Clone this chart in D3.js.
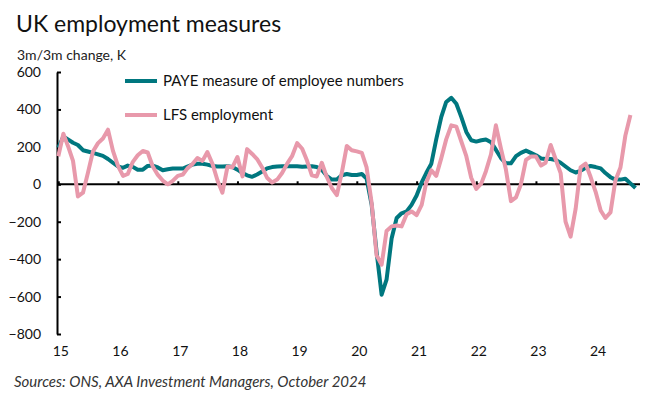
<!DOCTYPE html>
<html>
<head>
<meta charset="utf-8">
<script src="https://cdn.jsdelivr.net/npm/d3@7"></script>
<style>
  body { margin: 0; background: #fff; }
  svg { font-family: Lato, "Open Sans", sans-serif; }
</style>
</head>
<body>
<div id="chart"></div>
<script>
// monthly 3m/3m changes, thousands, starting Jan 2015
const startYear = 2015;
const payeValues = [
  195, 255, 240, 222, 210, 182, 175, 168, 160, 152, 135, 115,
  95, 88, 100, 93, 78, 78, 98, 100, 90, 75, 80, 84,
  84, 84, 95, 105, 110, 110, 105, 98, 95, 95, 97, 92,
  78, 60, 48, 40, 52, 68, 85, 92, 95, 96, 97, 97,
  96, 94, 95, 96, 92, 78, 45, 25, 25, 48, 55, 50,
  50, 55, 30, -110, -360, -590, -510, -290, -180, -155, -145, -110,
  -60, 10, 60, 110, 240, 360, 440, 462, 430, 360, 280, 235,
  228, 235, 239, 225, 185, 140, 112, 112, 150, 168, 180, 168,
  155, 138, 135, 135, 130, 115, 95, 75, 63, 72, 88, 98,
  92, 85, 60, 38, 25, 25, 30, 5, -20
];
const lfsValues = [
  150, 270, 205, 125, -65, -45, 60, 175, 220, 245, 292, 180,
  98, 45, 55, 120, 155, 178, 170, 95, 50, 20, 0, 18,
  45, 52, 85, 108, 140, 125, 172, 110, 20, -45, 95, 90,
  146, 42, 188, 162, 135, 90, 35, 10, 25, 60, 110, 150,
  220, 190, 130, 48, 42, 115, 40, -20, -58, 60, 205, 182,
  176, 168, 90, -100, -380, -430, -250, -225, -220, -225, -160, -145,
  -165, -110, 10, 75, 45, 140, 240, 315, 308, 230, 150, 35,
  -25, 5, 70, 160, 315, 190, 80, -90, -70, 0, 130, 148,
  148, 100, 115, 210, 135, 60, -200, -280, -130, 90, 110, 40,
  -40, -140, -180, -150, 20, 90, 260, 370
];
const yTicks = [-800, -600, -400, -200, 0, 200, 400, 600];
const seriesNames = ["PAYE measure of employee numbers", "LFS employment"];
const seriesColors = ["#00777f", "#e899ab"];

const width = 655, height = 398;

const svg = d3.select("#chart").append("svg")
  .attr("width", width)
  .attr("height", height);

const monthDate = i => new Date(startYear, i, 1);

const x = d3.scaleTime()
  .domain([new Date(2015, 0, 1), new Date(2024, 9, 1)])
  .range([58.3, 640.4]);

const y = d3.scaleLinear()
  .domain([-800, 600])
  .range([334, 72]);

// title
svg.append("text")
  .attr("x", 16).attr("y", 32)
  .style("font-size", "23px")
  .style("fill", "#111")
  .text("UK employment measures");

svg.append("text")
  .attr("x", 17).attr("y", 60)
  .style("font-size", "14px")
  .style("fill", "#222")
  .text("3m/3m change, K");

// y axis
const yAxis = svg.append("g")
  .attr("transform", "translate(57,0)")
  .call(d3.axisLeft(y).tickValues(yTicks).tickSizeInner(-4).tickSizeOuter(0).tickPadding(16));
yAxis.selectAll("path, line").attr("stroke", "#000").attr("stroke-width", 2);
yAxis.selectAll("text")
  .style("font-size", "14px").style("font-family", "Lato, sans-serif").attr("fill", "#111");

// x axis along zero
const xAxis = svg.append("g")
  .attr("transform", `translate(0,${y(0)})`)
  .call(d3.axisBottom(x).ticks(d3.timeYear.every(1)).tickSizeInner(-3).tickSizeOuter(0).tickFormat(""));
xAxis.select("path").attr("d", `M57,0H640`);
xAxis.selectAll("path, line").attr("stroke", "#000").attr("stroke-width", 2);

// year labels below plot
const xLabels = svg.append("g")
  .attr("transform", "translate(2,343)")
  .call(d3.axisBottom(x).ticks(d3.timeYear.every(1)).tickSize(0).tickPadding(3).tickFormat(d3.timeFormat("%y")));
xLabels.select(".domain").remove();
xLabels.selectAll("text").style("font-size", "14px").style("font-family", "Lato, sans-serif").attr("fill", "#111");

// lines
const line = d3.line()
  .x((d, i) => x(monthDate(i)))
  .y(d => y(d));

[payeValues, lfsValues].forEach((vals, k) => {
  svg.append("path")
    .datum(vals)
    .attr("fill", "none")
    .attr("stroke", seriesColors[k])
    .attr("stroke-width", 4)
    .attr("stroke-linejoin", "round")
    .attr("d", line);
});

// legend
const legend = svg.append("g").attr("transform", "translate(125,81)");
seriesNames.forEach((name, k) => {
  const g = legend.append("g").attr("transform", `translate(0,${k * 34})`);
  g.append("line")
    .attr("x1", 0).attr("x2", 32)
    .attr("stroke", seriesColors[k])
    .attr("stroke-width", 4);
  g.append("text")
    .attr("x", 38).attr("dy", "0.35em")
    .style("font-size", "15px")
    .style("fill", "#111")
    .text(name);
});

// source
svg.append("text")
  .attr("x", 14).attr("y", 387)
  .style("font-size", "15px")
  .style("font-style", "italic")
  .style("fill", "#333")
  .text("Sources: ONS, AXA Investment Managers, October 2024");
</script>
</body>
</html>
